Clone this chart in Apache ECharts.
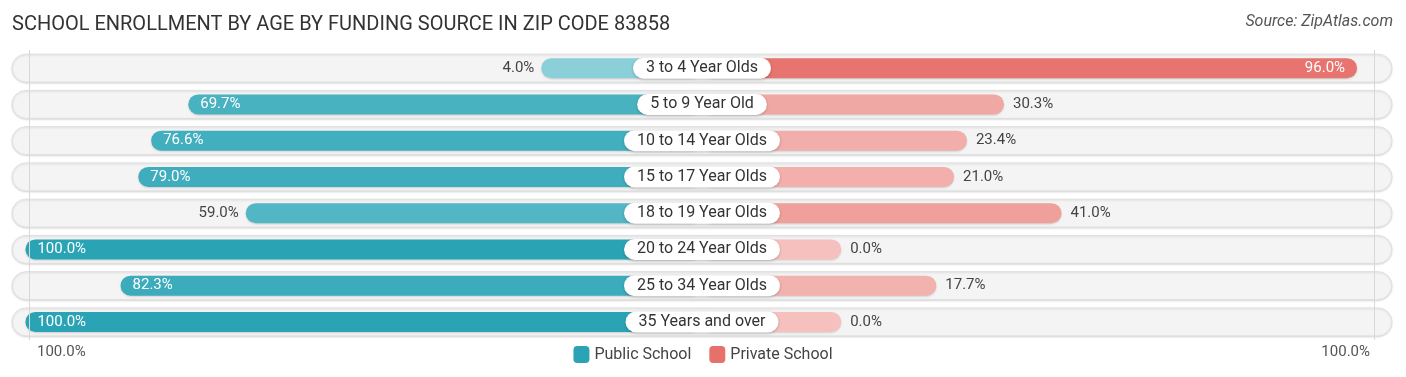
<!DOCTYPE html>
<html>
<head>
<meta charset="utf-8">
<script src="https://cdn.jsdelivr.net/npm/echarts@6/dist/echarts.min.js"></script>
<style>
  html, body { margin: 0; padding: 0; background: #fff; }
  #chart { width: 1406px; height: 377px; }
</style>
</head>
<body>
<div id="chart"></div>
<script>
// data
const categories = ['3 to 4 Year Olds', '5 to 9 Year Old', '10 to 14 Year Olds', '15 to 17 Year Olds',
  '18 to 19 Year Olds', '20 to 24 Year Olds', '25 to 34 Year Olds', '35 Years and over'];
const publicValues = [4.0, 69.7, 76.6, 79.0, 59.0, 100.0, 82.3, 100.0];
const privateValues = [96.0, 30.3, 23.4, 21.0, 41.0, 0.0, 17.7, 0.0];
const edgeLabels = ['100.0%', '100.0%'];
const seriesNames = ['Public School', 'Private School'];

const OFFSET = 25.9;   // space kept free round the category pill, in % units
const RANGE = 128.4;   // half width of the grey row
const FONT = 'Roboto';

// bars get darker as the share grows
function mix(c1, c2, t) {
  const a = c1.match(/\w\w/g).map(h => parseInt(h, 16));
  const b = c2.match(/\w\w/g).map(h => parseInt(h, 16));
  return 'rgb(' + a.map((v, i) => Math.round(v + (b[i] - v) * t)).join(',') + ')';
}
const pubLight = '8fd1da', pubDark = '2aa4b5';
const privLight = 'f5c0bd', privDark = 'e6716b';

function barItem(v, side) {
  const inside = v >= 60;
  const color = side < 0 ? mix(pubLight, pubDark, v / 100) : mix(privLight, privDark, v / 100);
  return {
    value: side * (v + OFFSET),
    itemStyle: { color: color },
    label: {
      show: true,
      position: inside ? (side < 0 ? 'insideLeft' : 'insideRight') : (side < 0 ? 'left' : 'right'),
      distance: inside ? 12 : (side < 0 ? 7 : 9),
      color: inside ? '#fff' : '#444',
      formatter: v.toFixed(1) + '%'
    }
  };
}

const chart = echarts.init(document.getElementById('chart'));

chart.setOption({
  animation: false,
  textStyle: { fontFamily: FONT },
  title: {
    text: 'SCHOOL ENROLLMENT BY AGE BY FUNDING SOURCE IN ZIP CODE 83858',
    left: 7, top: 10,
    textStyle: { fontFamily: FONT, fontSize: 20, fontWeight: 'normal', color: '#333' }
  },
  graphic: [
    { type: 'text', right: 13, top: 14,
      style: { text: 'Source: ZipAtlas.com', font: 'italic 16px ' + FONT, fill: '#555' } },
    { type: 'text', left: 37, top: 345,
      style: { text: edgeLabels[0], font: '15px ' + FONT, fill: '#555' } },
    { type: 'text', right: 36, top: 345,
      style: { text: edgeLabels[1], font: '15px ' + FONT, fill: '#555' } }
  ],
  legend: {
    data: seriesNames,
    bottom: 9, left: 'center',
    icon: 'roundRect',
    itemWidth: 16, itemHeight: 17, itemGap: 18,
    textStyle: { fontFamily: FONT, fontSize: 16, color: '#444' }
  },
  grid: { left: 12, right: 14, top: 50, bottom: 37 },
  xAxis: {
    type: 'value', min: -RANGE, max: RANGE,
    show: false
  },
  yAxis: {
    type: 'category', data: categories, inverse: true,
    show: false
  },
  series: [
    {
      type: 'custom',
      z: 1,
      silent: true,
      data: categories.map((c, i) => i),
      renderItem: function (params, api) {
        const idx = api.value(0);
        const p0 = api.coord([-RANGE, idx]);
        const p1 = api.coord([RANGE, idx]);
        const h = 28;
        return {
          type: 'rect',
          shape: { x: p0[0], y: p0[1] - h / 2, width: p1[0] - p0[0], height: h, r: h / 2 },
          style: { fill: '#f4f4f4', stroke: '#e0e0e0', lineWidth: 1,
                   shadowBlur: 2, shadowColor: 'rgba(0,0,0,0.12)', shadowOffsetY: 1 }
        };
      },
      encode: { y: 0 },
      markLine: {
        silent: true, symbol: 'none',
        label: { show: false },
        lineStyle: { color: '#d8d8d8', width: 1, type: 'solid' },
        data: [{ xAxis: -(100 + OFFSET) + 0.8 }, { xAxis: 100 + OFFSET - 0.8 }]
      }
    },
    {
      name: seriesNames[0],
      type: 'bar', z: 2,
      barWidth: 20, barGap: '-100%',
      itemStyle: { color: '#2aa4b5', borderRadius: 10,
                   shadowBlur: 2, shadowColor: 'rgba(0,0,0,0.15)', shadowOffsetY: 1 },
      label: { fontFamily: FONT, fontSize: 15 },
      data: publicValues.map(v => barItem(v, -1))
    },
    {
      name: seriesNames[1],
      type: 'bar', z: 2,
      barWidth: 20, barGap: '-100%',
      itemStyle: { color: '#e6716b', borderRadius: 10,
                   shadowBlur: 2, shadowColor: 'rgba(0,0,0,0.15)', shadowOffsetY: 1 },
      label: { fontFamily: FONT, fontSize: 15 },
      data: privateValues.map(v => barItem(v, 1))
    },
    {
      // category names in white pills on the centre line
      type: 'custom', z: 10,
      silent: true,
      data: categories.map((c, i) => i),
      encode: { y: 0 },
      renderItem: function (params, api) {
        const idx = api.value(0);
        const p = api.coord([0, idx]);
        return {
          type: 'text',
          x: p[0], y: p[1],
          style: {
            text: categories[idx],
            font: '16px ' + FONT, fill: '#333',
            align: 'center', verticalAlign: 'middle',
            backgroundColor: '#fff', borderRadius: 12,
            padding: [3, 13, 2, 13],
            shadowBlur: 3, shadowColor: 'rgba(0,0,0,0.22)', shadowOffsetY: 1
          }
        };
      }
    }
  ]
});
</script>
</body>
</html>
